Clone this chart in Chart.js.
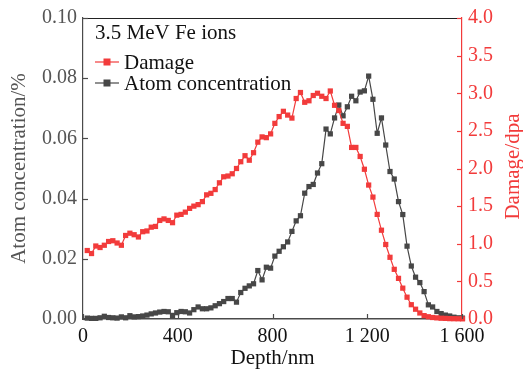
<!DOCTYPE html>
<html><head><meta charset="utf-8">
<script src="https://cdn.jsdelivr.net/npm/chart.js@4/dist/chart.umd.min.js"></script>
<style>html,body{margin:0;padding:0;background:#fff}#wrap{width:523px;height:372px}</style>
</head><body><div id="wrap"><canvas id="c" width="523" height="372"></canvas></div>
<script>
const depth = [18,36,54,72,90,108,126,144,162,180,198,216,234,252,270,288,306,324,342,360,378,396,414,432,450,468,486,504,522,540,558,576,594,612,630,648,666,684,702,720,738,756,774,792,810,828,846,864,882,900,918,936,954,972,990,1008,1026,1044,1062,1080,1098,1116,1134,1152,1170,1188,1206,1224,1242,1260,1278,1296,1314,1332,1350,1368,1386,1404,1422,1440,1458,1476,1494,1512,1530,1548,1566,1584,1602];
const damage = [0.91,0.87,0.97,0.95,0.98,1.03,1.04,1.01,0.98,1.11,1.14,1.12,1.09,1.16,1.17,1.22,1.23,1.31,1.33,1.31,1.28,1.38,1.39,1.42,1.47,1.50,1.52,1.56,1.65,1.67,1.72,1.81,1.89,1.90,1.93,2.00,2.09,2.17,2.11,2.21,2.35,2.42,2.41,2.46,2.60,2.69,2.76,2.71,2.67,2.93,3.01,2.88,2.90,2.97,3.00,2.96,2.93,3.03,2.84,2.77,2.60,2.56,2.28,2.28,2.16,1.99,1.78,1.62,1.39,1.18,0.99,0.82,0.66,0.54,0.41,0.29,0.19,0.13,0.08,0.045,0.03,0.02,0.015,0.01,0.008,0.005,0.004,0.003,0.002];
const atomConc = [0.0003,0.0002,0.0002,0.0004,0.0009,0.0005,0.0004,0.0003,0.0007,0.0004,0.0011,0.0007,0.0008,0.0010,0.0013,0.0017,0.0020,0.0023,0.0025,0.0024,0.0012,0.0021,0.0025,0.0024,0.0020,0.0031,0.0040,0.0034,0.0034,0.0037,0.0044,0.0051,0.0058,0.0068,0.0068,0.0056,0.0088,0.0102,0.0110,0.0117,0.0161,0.0130,0.0172,0.0169,0.0209,0.0225,0.0240,0.0256,0.0291,0.0326,0.0343,0.0418,0.0440,0.0447,0.0485,0.0516,0.0631,0.0615,0.0668,0.0711,0.0675,0.0705,0.0740,0.0725,0.0754,0.0758,0.0807,0.0730,0.0617,0.0668,0.0578,0.0490,0.0465,0.0390,0.0347,0.0242,0.0176,0.0139,0.0121,0.0091,0.0047,0.0040,0.0025,0.0018,0.0013,0.0010,0.0006,0.0004,0.0003];
const xTicks = [0,400,800,1200,1600];
const leftTicks = [0,0.02,0.04,0.06,0.08,0.10];
const rightTicks = [0,0.5,1.0,1.5,2.0,2.5,3.0,3.5,4.0];
const labels = {title:'3.5 MeV Fe ions', damage:'Damage', atom:'Atom concentration', x:'Depth/nm', yl:'Atom concentration/%', yr:'Damage/dpa'};

const RED = '#f23b3b', GREY = '#474747', AXG = '#4a4a4a', LBL = '#555555';
const FONT = "'Liberation Serif', 'Times New Roman', serif";

const extras = {
  id: 'extras',
  afterDraw(chart) {
    const ctx = chart.ctx, a = chart.chartArea;
    const x = chart.scales.x, yl = chart.scales.yl, yr = chart.scales.yr;
    ctx.save();
    ctx.strokeStyle = '#222'; ctx.lineWidth = 1;
    ctx.beginPath(); ctx.moveTo(a.left, a.top + 0.5); ctx.lineTo(a.right, a.top + 0.5); ctx.stroke();
    ctx.strokeStyle = AXG; ctx.lineWidth = 1.2;
    leftTicks.forEach(v => { const y = Math.round(yl.getPixelForValue(v)) + 0.5; ctx.beginPath(); ctx.moveTo(a.left, y); ctx.lineTo(a.left + 5, y); ctx.stroke(); });
    xTicks.forEach(v => { const xx = Math.round(x.getPixelForValue(v)) + 0.5; ctx.beginPath(); ctx.moveTo(xx, a.bottom); ctx.lineTo(xx, a.bottom - 5); ctx.stroke(); });
    ctx.strokeStyle = RED;
    rightTicks.forEach(v => { const y = Math.round(yr.getPixelForValue(v)) + 0.5; ctx.beginPath(); ctx.moveTo(a.right, y); ctx.lineTo(a.right - 5, y); ctx.stroke(); });
    ctx.fillStyle = RED; ctx.font = '21px ' + FONT; ctx.textAlign = 'center'; ctx.textBaseline = 'middle';
    ctx.translate(513, (a.top + a.bottom) / 2 - 2); ctx.rotate(-Math.PI / 2);
    ctx.fillText(labels.yr, 0, 0);
    ctx.restore();
    ctx.save();
    ctx.font = '21px ' + FONT; ctx.textBaseline = 'middle'; ctx.textAlign = 'left'; ctx.fillStyle = '#111';
    ctx.fillText(labels.title, 95, 33);
    const items = [[labels.damage, RED, 62], [labels.atom, GREY, 83]];
    items.forEach(([t, c, y]) => {
      ctx.strokeStyle = c; ctx.lineWidth = 1.2;
      ctx.beginPath(); ctx.moveTo(95, y); ctx.lineTo(119, y); ctx.stroke();
      ctx.fillStyle = c; ctx.fillRect(107 - 3.5, y - 3.5, 7, 7);
      ctx.fillStyle = '#111'; ctx.fillText(t, 124, y + 1);
    });
    ctx.restore();
  }
};

new Chart(document.getElementById('c'), {
  type: 'line',
  data: {
    datasets: [
      { label: labels.damage, data: depth.map((d, i) => ({x: d, y: damage[i]})), yAxisID: 'yr',
        borderColor: RED, backgroundColor: RED, borderWidth: 1.2, pointStyle: 'rect', pointRadius: 3.7, pointBorderWidth: 0, tension: 0, clip: false },
      { label: labels.atom, data: depth.map((d, i) => ({x: d, y: atomConc[i]})), yAxisID: 'yl',
        borderColor: GREY, backgroundColor: GREY, borderWidth: 1.2, pointStyle: 'rect', pointRadius: 3.7, pointBorderWidth: 0, tension: 0, clip: false }
    ]
  },
  options: {
    responsive: false, animation: false, devicePixelRatio: 1,
    layout: { padding: { top: 17, left: 0, right: 0, bottom: 0 } },
    plugins: { legend: { display: false }, tooltip: { enabled: false } },
    scales: {
      x: { type: 'linear', min: 0, max: 1600,
        afterFit(s) { s.height = 53; },
        afterBuildTicks(s) { s.ticks = xTicks.map(v => ({value: v})); },
        grid: { display: false, drawTicks: false }, border: { color: AXG, width: 1.5 },
        ticks: { color: '#111', font: { family: FONT, size: 20 }, padding: 6, maxRotation: 0,
          callback: v => v >= 1000 ? String(v).replace(/^(\d)(\d{3})$/, '$1 $2') : String(v) },
        title: { display: true, text: labels.x, color: '#111', font: { family: FONT, size: 21 }, padding: { top: 0, bottom: 1 } } },
      yl: { type: 'linear', position: 'left', min: 0, max: 0.10,
        afterFit(s) { s.width = 83; },
        afterBuildTicks(s) { s.ticks = leftTicks.map(v => ({value: v})); },
        grid: { display: false, drawTicks: false }, border: { color: AXG, width: 1.2 },
        ticks: { color: LBL, font: { family: FONT, size: 20 }, padding: 6, callback: v => v.toFixed(2) },
        title: { display: true, text: labels.yl, color: LBL, font: { family: FONT, size: 21 }, padding: { top: 7, bottom: 0 } } },
      yr: { type: 'linear', position: 'right', min: 0, max: 4.0,
        afterFit(s) { s.width = 61; },
        afterBuildTicks(s) { s.ticks = rightTicks.map(v => ({value: v})); },
        grid: { display: false, drawTicks: false }, border: { color: RED, width: 1.2 },
        ticks: { color: RED, font: { family: FONT, size: 20 }, padding: 6, callback: v => v.toFixed(1) } }
    }
  },
  plugins: [extras]
});
</script></body></html>
